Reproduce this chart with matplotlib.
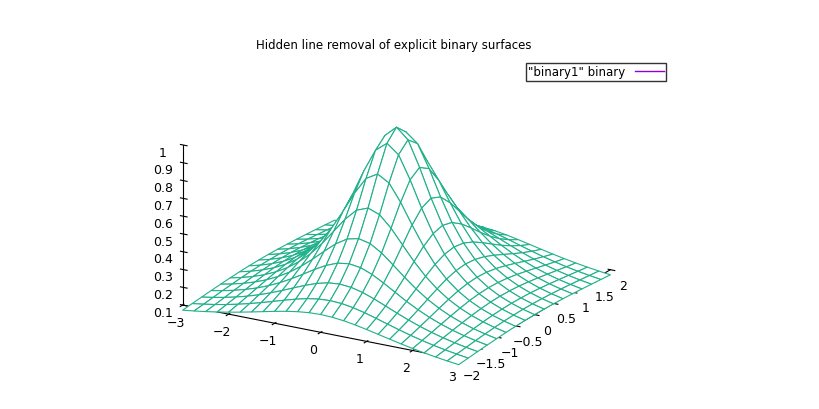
import numpy as np
import matplotlib
matplotlib.use("Agg")
import matplotlib.pyplot as plt
from matplotlib.lines import Line2D

# grid of the binary1 data file: z = 1 / (1 + x^2 + y^2)
x_vals = np.linspace(-3, 3, 25)
y_vals = np.linspace(-2, 2, 17)
X, Y = np.meshgrid(x_vals, y_vals)
Z = 1.0 / (1.0 + X**2 + Y**2)

x_ticks = [-3, -2, -1, 0, 1, 2, 3]
y_ticks = [-2, -1.5, -1, -0.5, 0, 0.5, 1, 1.5, 2]
z_ticks = [0.1, 0.2, 0.3, 0.4, 0.5, 0.6, 0.7, 0.8, 0.9, 1]


def fmt(v):
    return f"{v:g}".replace("-", "\u2212")


fig = plt.figure(figsize=(8.2, 4.09), dpi=100)
ax = fig.add_axes([-0.079, -0.082, 1.11, 1.12], projection="3d")
ax.plot_surface(X, Y, Z, color="white", edgecolor="#20b08a", linewidth=0.8,
                shade=False, rstride=1, cstride=1)
ax.set_proj_type("ortho")
ax.view_init(elev=20, azim=-60)
ax.set_xlim(-3, 3)
ax.set_ylim(-2, 2)
ax.set_zlim(0.1, 1)
ax.set_xticks(x_ticks)
ax.set_yticks(y_ticks)
ax.set_zticks(z_ticks)
ax.set_xticklabels([fmt(v) for v in x_ticks])
ax.set_yticklabels([fmt(v) for v in y_ticks])
ax.set_zticklabels([fmt(v) for v in z_ticks])
ax.tick_params(labelsize=9, pad=0)
ax.zaxis._axinfo["juggled"] = (1, 2, 0)
ax.set_box_aspect((1.87, 1.78, 1.0))
for a in (ax.xaxis, ax.yaxis, ax.zaxis):
    a.pane.fill = False
    a.pane.set_edgecolor("white")
    a._axinfo["grid"]["color"] = (1, 1, 1, 0)
ax.grid(False)

fig.text(0.48, 0.88, "Hidden line removal of explicit binary surfaces",
         ha="center", fontsize=8.5)
handle = Line2D([], [], color="#9400d3", linewidth=1)
fig.legend([handle], ['"binary1" binary'], loc="upper right",
           bbox_to_anchor=(0.82, 0.86), fontsize=8.5, frameon=True,
           fancybox=False, edgecolor="black", markerfirst=False,
           handlelength=2.5, borderpad=0.2)
fig.savefig("out.png", dpi=100)
